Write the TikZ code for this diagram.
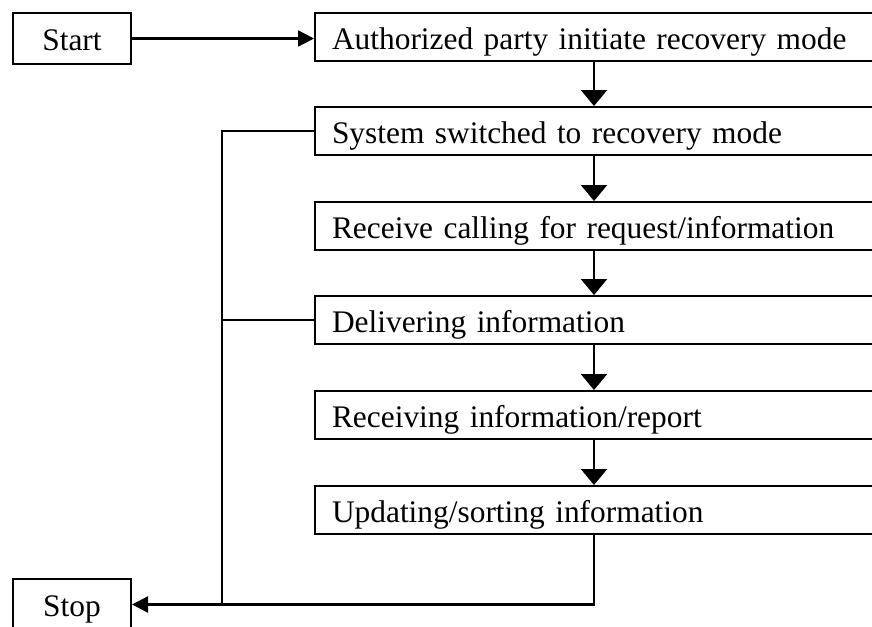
\documentclass[tikz,border=0pt]{standalone}
\usepackage{fontspec}
\setmainfont{Liberation Serif}
\usetikzlibrary{arrows.meta}
\begin{document}
\begin{tikzpicture}[x=1pt,y=-1pt,
  every node/.style={font=\fontsize{31.4}{37}\selectfont},
  stepbox/.style={draw, line width=2pt, rectangle, anchor=north west,
    minimum height=48pt, text width=532pt, inner xsep=17pt, inner ysep=0pt,
    align=left, text height=30pt, text depth=6pt},
  termbox/.style={draw, line width=2pt, rectangle, anchor=north west,
    minimum width=118pt, minimum height=51pt, inner sep=0pt,
    text height=30pt, text depth=6pt},
  link/.style={line width=2.3pt},
  vtip/.style={link, -{Triangle[length=16pt,width=26pt]}},
  htip/.style={link, -{Triangle[length=16pt,width=16pt]}},
]
\useasboundingbox (0,0) rectangle (872,626);
\clip (0,0) rectangle (872,626);

% process steps and terminals
\node[termbox] (start) at (12,12) {Start};
\node[stepbox] (auth)  at (314,12)  {Authorized party initiate recovery mode};
\node[stepbox] (sys)   at (314,106) {System switched to recovery mode};
\node[stepbox] (recv)  at (314,201) {Receive calling for request/information};
\node[stepbox] (deliv) at (314,295) {Delivering information};
\node[stepbox] (rept)  at (314,390) {Receiving information/report};
\node[stepbox] (upd)   at (314,485) {Updating/sorting information};
\node[termbox] (stop)  at (12,578)  {Stop};

% guide lines for the vertical flow and the left return bus
\coordinate (spine) at (594,0);
\coordinate (bus) at (222,0);

% main flow
\draw[htip] (start.east) -- (start.east -| auth.west);
\draw[vtip] (auth.south -| spine)  -- (sys.north -| spine);
\draw[vtip] (sys.south -| spine)   -- (recv.north -| spine);
\draw[vtip] (recv.south -| spine)  -- (deliv.north -| spine);
\draw[vtip] (deliv.south -| spine) -- (rept.north -| spine);
\draw[vtip] (rept.south -| spine)  -- (upd.north -| spine);

% exits to Stop
\draw[link] (sys.west) -- (sys.west -| bus) -- (bus |- stop.east);
\draw[link] (deliv.west) -- (deliv.west -| bus);
\draw[htip] (upd.south -| spine) -- (spine |- stop.east) -- (stop.east);
\end{tikzpicture}
\end{document}
